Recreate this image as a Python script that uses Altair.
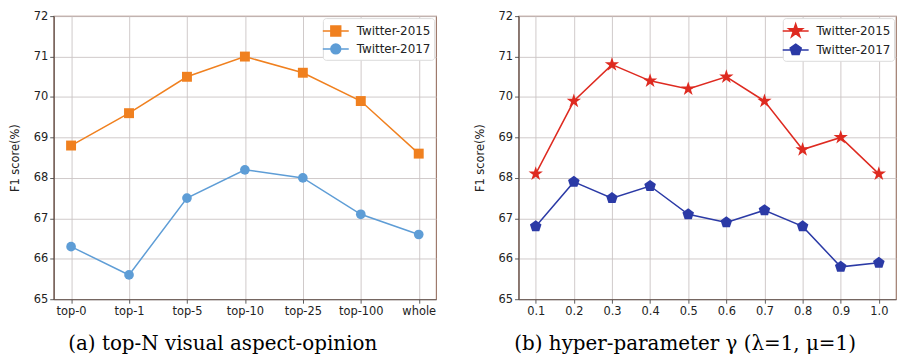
import altair as alt
import pandas as pd

# ---------------- data ----------------
series = ["Twitter-2015", "Twitter-2017"]

top_n = ["top-0", "top-1", "top-5", "top-10", "top-25", "top-100", "whole"]
a_2015 = [68.8, 69.6, 70.5, 71.0, 70.6, 69.9, 68.6]
a_2017 = [66.3, 65.6, 67.5, 68.2, 68.0, 67.1, 66.6]

gammas = [0.1, 0.2, 0.3, 0.4, 0.5, 0.6, 0.7, 0.8, 0.9, 1.0]
b_2015 = [68.1, 69.9, 70.8, 70.4, 70.2, 70.5, 69.9, 68.7, 69.0, 68.1]
b_2017 = [66.8, 67.9, 67.5, 67.8, 67.1, 66.9, 67.2, 66.8, 65.8, 65.9]

y_ticks = [65, 66, 67, 68, 69, 70, 71, 72]
captions = ["(a) top-N visual aspect-opinion", "(b) hyper-parameter γ (λ=1, μ=1)"]

# ---------------- styles ----------------
colors_a = ["#F0801F", "#5E9DD6"]
colors_b = ["#DE2A20", "#2B3AA6"]

STAR = ("M0,-1L0.2245,-0.309L0.951,-0.309L0.363,0.118L0.588,0.809L0,0.382"
        "L-0.588,0.809L-0.363,0.118L-0.951,-0.309L-0.2245,-0.309Z")
PENT = "M0,-1L0.951,-0.309L0.588,0.809L-0.588,0.809L-0.951,-0.309Z"

# legend symbols (line + marker), unit = 9px
LEG_SQUARE = "M-1.45,0H1.45M-0.55,-0.55H0.55V0.55H-0.55Z"
LEG_CIRCLE = "M-1.45,0H1.45M-0.55,0A0.55,0.55,0,1,0,0.55,0A0.55,0.55,0,1,0,-0.55,0Z"
LEG_STAR = ("M-1.45,0H1.45M0,-0.8L0.18,-0.247L0.761,-0.247L0.29,0.094L0.47,0.647L0,0.306"
            "L-0.47,0.647L-0.29,0.094L-0.761,-0.247L-0.18,-0.247Z")
LEG_PENT = "M-1.45,0H1.45M0,-0.65L0.618,-0.2L0.382,0.526L-0.382,0.526L-0.618,-0.2Z"

AXIS = dict(
    labelFont="DejaVu Sans", labelFontSize=11.5, labelColor="#222222",
    titleFont="DejaVu Sans", titleFontSize=11.5, titleFontWeight="normal", titleColor="#222222",
    tickColor="#333333", tickSize=4, tickWidth=0.8, labelPadding=2,
    domainColor="#5E4E48", domainWidth=1.1,
    grid=True, gridColor="#CAC4C4", gridWidth=0.9,
)


def make_legend():
    return alt.Legend(
        title=None, orient="top-right", offset=2, padding=3,
        fillColor="white", strokeColor="#DCDCDC", cornerRadius=3,
        labelFont="DejaVu Sans", labelFontSize=12, labelColor="#222222",
        symbolSize=324, labelOffset=11, rowPadding=0, symbolStrokeWidth=1.5,
        symbolOpacity=1,
    )


def panel(df, xenc, colors, shapes, leg_paths, caption, width, sizes):
    yenc = alt.Y(
        "y:Q",
        scale=alt.Scale(domain=[65, 72], nice=False, zero=False),
        axis=alt.Axis(title="F1 score(%)", values=y_ticks, titlePadding=13, **AXIS),
    )
    layers = []
    for i, name in enumerate(series):
        sub = alt.Chart(df).transform_filter(alt.datum.s == name)
        layers.append(sub.mark_line(strokeWidth=1.5, color=colors[i]).encode(x=xenc, y=yenc))
    for i, name in enumerate(series):
        sub = alt.Chart(df).transform_filter(alt.datum.s == name)
        layers.append(
            sub.mark_point(filled=True, opacity=1, shape=shapes[i], size=sizes[i], color=colors[i])
            .encode(x=xenc, y=yenc)
        )
    # legend carrier: no rows drawn, legend built from the scales' domains
    leg = alt.Chart(df).transform_filter("datum.y < 0").mark_point(filled=True, opacity=1).encode(
        x=xenc, y=yenc,
        fill=alt.Fill("s:N", scale=alt.Scale(domain=series, range=colors), legend=make_legend()),
        stroke=alt.Stroke("s:N", scale=alt.Scale(domain=series, range=colors), legend=make_legend()),
        shape=alt.Shape("s:N", scale=alt.Scale(domain=series, range=leg_paths), legend=make_legend()),
    )
    layers.append(leg)
    return alt.layer(*layers).properties(
        width=width, height=285,
        title=alt.TitleParams(
            text=caption, orient="bottom", anchor="middle", frame="bounds",
            font="DejaVu Serif", fontSize=20, fontWeight="normal", color="black", offset=18,
        ),
    )


df_a = pd.DataFrame({
    "x": top_n + top_n,
    "y": a_2015 + a_2017,
    "s": [series[0]] * len(top_n) + [series[1]] * len(top_n),
})
df_b = pd.DataFrame({
    "x": gammas + gammas,
    "y": b_2015 + b_2017,
    "s": [series[0]] * len(gammas) + [series[1]] * len(gammas),
})

xa = alt.X(
    "x:N", sort=top_n, scale=alt.Scale(type="point", padding=0.3),
    axis=alt.Axis(title=None, labelAngle=0, **AXIS),
)
xb = alt.X(
    "x:Q", scale=alt.Scale(domain=[0.055, 1.045], nice=False, zero=False),
    axis=alt.Axis(title=None, values=gammas, format=".1f", **AXIS),
)

pa = panel(df_a, xa, colors_a, ["square", "circle"], [LEG_SQUARE, LEG_CIRCLE], captions[0], 385, [100, 95])
pb = panel(df_b, xb, colors_b, [STAR, PENT], [LEG_STAR, LEG_PENT], captions[1], 380, [230, 150])

chart = (
    alt.hconcat(pa, pb, spacing=36)
    .resolve_scale(fill="independent", stroke="independent", shape="independent")
    .resolve_legend(fill="independent", stroke="independent", shape="independent")
    .properties(padding={"left": 0, "top": 0, "right": 0, "bottom": 0}, background="white")
    .configure_view(stroke="#9E7A6C", strokeWidth=1.2)
)

chart.save("out.html", embed_options={"renderer": "svg", "actions": False})
